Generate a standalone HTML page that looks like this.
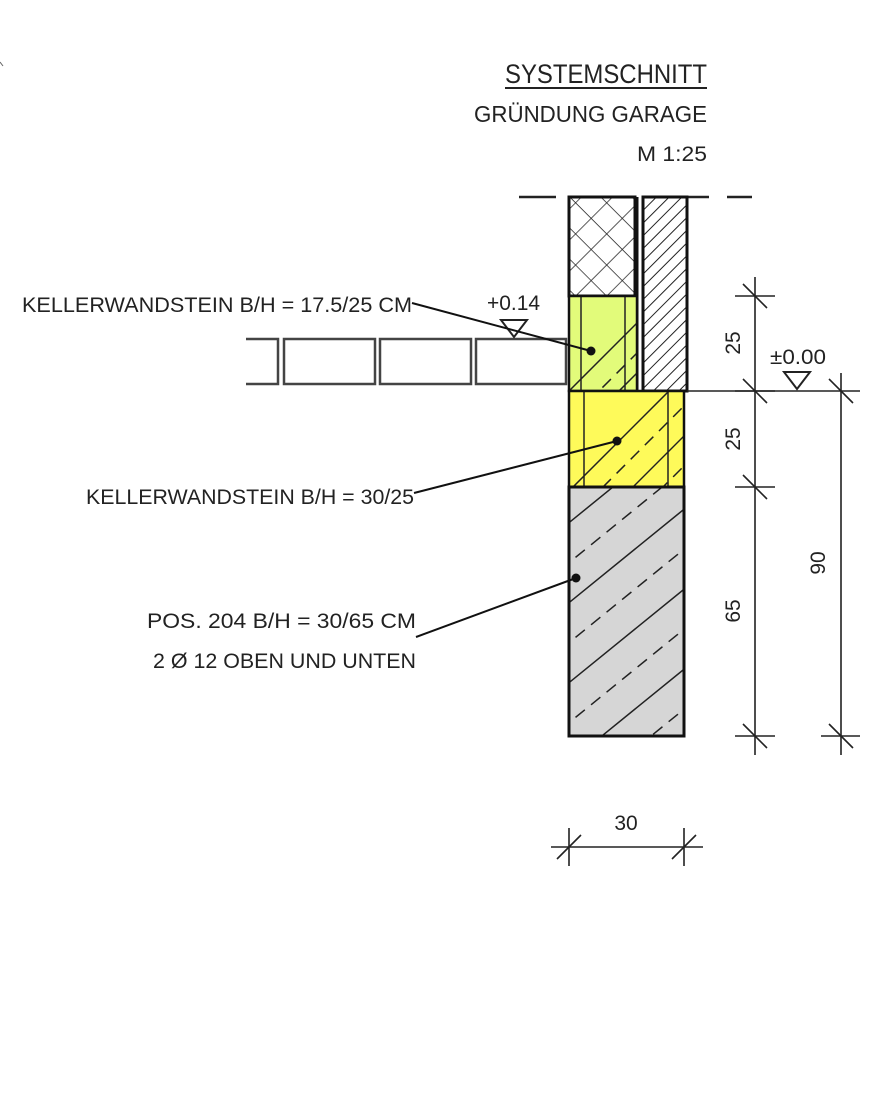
<!DOCTYPE html>
<html><head><meta charset="utf-8"><style>
html,body{margin:0;padding:0;background:#fff}
svg{display:block}
text{font-family:"Liberation Sans Narrow","Liberation Sans",sans-serif;fill:#222}
</style></head><body>
<svg width="889" height="1107" viewBox="0 0 889 1107" xmlns="http://www.w3.org/2000/svg">
<defs>
<pattern id="cross" width="22" height="22" patternUnits="userSpaceOnUse" patternTransform="rotate(45)">
<path d="M0 0H22M0 0V22" stroke="#222" stroke-width="1.5"/></pattern>
<pattern id="diag" width="9" height="9" patternUnits="userSpaceOnUse" patternTransform="rotate(45)">
<path d="M0 0V9" stroke="#222" stroke-width="2"/></pattern>
<clipPath id="cg"><rect x="569" y="296" width="68" height="95"/></clipPath>
<clipPath id="cy"><rect x="569" y="391" width="115" height="96"/></clipPath>
<clipPath id="cc"><rect x="569" y="487" width="115" height="249"/></clipPath>
</defs>
<path d="M519 197H556M574 197H627M653 197H709M727 197H752" stroke="#222" stroke-width="2.5" fill="none"/>
<!-- insulation -->
<rect x="569" y="197" width="66" height="99" fill="url(#cross)"/>
<rect x="569" y="197" width="66" height="99" fill="none" stroke="#111" stroke-width="3"/>
<line x1="637" y1="197" x2="637" y2="391" stroke="#111" stroke-width="3"/>
<!-- hatched wall -->
<rect x="643" y="197" width="44" height="194" fill="url(#diag)"/>
<rect x="643" y="197" width="44" height="194" fill="none" stroke="#111" stroke-width="3"/>
<!-- green -->
<rect x="569" y="296" width="68" height="95" fill="#e2fb7a"/>
<g clip-path="url(#cg)" stroke="#222" stroke-width="1.5">
<path d="M560 400L660 300M560 450L660 350"/>
<path d="M560 430L660 330" stroke-dasharray="12,8"/>
</g>
<path d="M581 296V391M625 296V391" stroke="#222" stroke-width="1.5"/>
<rect x="569" y="296" width="68" height="95" fill="none" stroke="#111" stroke-width="2.5"/>
<!-- yellow -->
<rect x="569" y="391" width="115" height="96" fill="#fefa5a"/>
<g clip-path="url(#cy)" stroke="#222" stroke-width="1.5">
<path d="M560 500L700 360M560 560L700 420M560 620L700 480"/>
<path d="M560 530L700 390M560 590L700 450" stroke-dasharray="12,8"/>
</g>
<path d="M584 391V487M668 391V487" stroke="#222" stroke-width="1.5"/>
<rect x="569" y="391" width="115" height="96" fill="none" stroke="#111" stroke-width="2.5"/>
<!-- concrete -->
<rect x="569" y="487" width="115" height="249" fill="#d6d6d6"/>
<g clip-path="url(#cc)" stroke="#222" stroke-width="1.5">
<path d="M560 530L720 400M560 610L720 480M560 690L720 560M560 770L720 640M560 850L720 720"/>
<path d="M560 570L720 440M560 650L720 520M560 730L720 600M560 810L720 680" stroke-dasharray="12,8"/>
</g>
<rect x="569" y="487" width="115" height="249" fill="none" stroke="#111" stroke-width="3"/>
<!-- pavers -->
<g fill="none" stroke="#444" stroke-width="2.5">
<path d="M246 339H278V384H246"/>
<rect x="284" y="339" width="91" height="45"/>
<rect x="380" y="339" width="91" height="45"/>
<rect x="476" y="339" width="90" height="45"/>
</g>
<!-- level markers -->
<path d="M501 320H527L514 337Z" fill="#fff" stroke="#222" stroke-width="2"/>
<text x="487" y="310" font-size="21" textLength="53" lengthAdjust="spacingAndGlyphs">+0.14</text>
<path d="M784 372H810L797 389Z" fill="#fff" stroke="#222" stroke-width="2"/>
<text x="770" y="364" font-size="21" textLength="56" lengthAdjust="spacingAndGlyphs">±0.00</text>
<!-- dimension lines -->
<g stroke="#222" stroke-width="1.6" fill="none">
<path d="M687 391H860"/>
<path d="M755 277V755"/>
<path d="M735 296H775M735 391H775M735 487H775M735 736H775"/>
<path d="M743 284L767 308M743 379L767 403M743 475L767 499M743 724L767 748"/>
<path d="M841 373V755"/>
<path d="M821 736H860"/>
<path d="M829 379L853 403M829 724L853 748"/>
<path d="M551 847H703M569 828V866M684 828V866"/>
<path d="M557 859L581 835M672 859L696 835"/>
</g>
<g font-size="21">
<text transform="translate(740 343) rotate(-90)" text-anchor="middle">25</text>
<text transform="translate(740 439) rotate(-90)" text-anchor="middle">25</text>
<text transform="translate(740 611) rotate(-90)" text-anchor="middle">65</text>
<text transform="translate(825 563) rotate(-90)" text-anchor="middle">90</text>
<text x="626" y="830" text-anchor="middle">30</text>
</g>
<!-- leaders -->
<g stroke="#111" stroke-width="2">
<path d="M412 303L591 351"/>
<path d="M414 493L617 441"/>
<path d="M416 637L576 578"/>
</g>
<circle cx="591" cy="351" r="4.5" fill="#111"/>
<circle cx="617" cy="441" r="4.5" fill="#111"/>
<circle cx="576" cy="578" r="4.5" fill="#111"/>
<!-- labels -->
<g font-size="21">
<text x="22" y="312" textLength="390" lengthAdjust="spacingAndGlyphs">KELLERWANDSTEIN  B/H = 17.5/25 CM</text>
<text x="86" y="504" textLength="328" lengthAdjust="spacingAndGlyphs">KELLERWANDSTEIN  B/H = 30/25</text>
<text x="147" y="628" textLength="269" lengthAdjust="spacingAndGlyphs">POS. 204  B/H = 30/65 CM</text>
<text x="153" y="668" textLength="263" lengthAdjust="spacingAndGlyphs">2 Ø 12 OBEN UND UNTEN</text>
<text x="505" y="83" font-size="27" textLength="202" lengthAdjust="spacingAndGlyphs">SYSTEMSCHNITT</text>
<path d="M505 88H707" stroke="#222" stroke-width="2"/>
<text x="474" y="122" font-size="23" textLength="233" lengthAdjust="spacingAndGlyphs">GRÜNDUNG GARAGE</text>
<text x="637" y="161" font-size="21" textLength="70" lengthAdjust="spacingAndGlyphs">M 1:25</text>
</g>
<path d="M0 62L3 66" stroke="#666" stroke-width="1"/>
</svg>
</body></html>
